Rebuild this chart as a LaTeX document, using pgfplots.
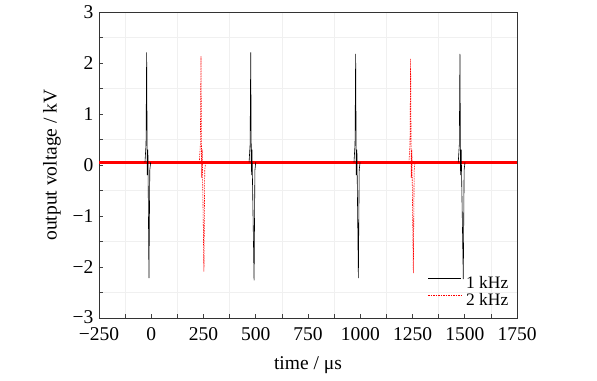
\documentclass[border=0pt]{standalone}
\usepackage{fontspec}
\setmainfont{Liberation Serif}
\usepackage{pgfplots}
\pgfplotsset{compat=1.18}
\begin{document}
\fontsize{19.5}{22}\selectfont
\begin{tikzpicture}
\begin{axis}[
  at={(0,0)}, anchor=south west,
  scale only axis, width=418pt, height=306pt,
  xmin=-250, xmax=1750, ymin=-3, ymax=3,
  xtick={-250,0,250,500,750,1000,1250,1500,1750},
  xticklabels={−250,0,250,500,750,1000,1250,1500,1750},
  ytick={-3,-2,-1,0,1,2,3},
  yticklabels={\raisebox{2.5pt}{−3},−2,−1,0,1,2,3},
  minor x tick num=1, minor y tick num=1,
  tick pos=left, tick align=inside,
  major tick length=4pt, minor tick length=4pt,
  tick style={black!75, line width=0.6pt},
  axis line style={black!80, line width=0.8pt},
  xminorgrids, yminorgrids,
  minor grid style={gray!12, line width=0.5pt},
  ticklabel style={font=\fontsize{19.5}{22}\selectfont, inner sep=1pt},
  xticklabel style={yshift=-8pt},
  yticklabel style={xshift=-4.5pt},
  label style={font=\fontsize{19.5}{22}\selectfont},
  xlabel={time / μs}, ylabel={output voltage / kV},
  xlabel style={yshift=-9pt},
  ylabel style={yshift=4pt},
  unbounded coords=jump,
  legend style={at={(0.988,0.033)}, anchor=south east, draw=none, fill=none,
    font=\fontsize{17.5}{20}\selectfont, row sep=5pt,
    nodes={inner sep=0.5pt, text height=11pt, text depth=0pt},
    /tikz/every odd column/.append style={column sep=4pt}},
  legend cell align=left,
  legend image code/.code={\draw[#1] (0pt,4.5pt) -- (33pt,4.5pt);},
]
% noisy baseline band (red)
\addplot[red, line width=3pt, forget plot] coordinates {(-250,0.05) (1750,0.05)};
% 1 kHz (black) pulses
\addplot[black, line width=0.6pt] coordinates {
(-30,0.05) (-25,0.4) (-22,2.21) (-19,-0.2) (-16,0.3) (-11,-2.22) (-7,-0.1) (-3,0.05)
(nan,nan)
(468,0.05) (473,0.4) (476,2.21) (479,-0.2) (482,0.3) (492,-2.26) (496,-0.1) (500,0.05)
(nan,nan)
(970,0.05) (975,0.4) (978,2.18) (981,-0.2) (984,0.3) (991,-2.22) (995,-0.1) (999,0.05)
(nan,nan)
(1469,0.05) (1474,0.4) (1477,2.18) (1480,-0.2) (1483,0.3) (1493,-2.24) (1497,-0.1) (1501,0.05)
};
\addlegendentry{1 kHz}
% 2 kHz (red dashed) pulses
\addplot[red, line width=0.6pt, dash pattern=on 1.5pt off 1pt] coordinates {
(230,0.05) (235,0.4) (238,2.13) (241,-0.25) (244,0.3) (252,-2.09) (256,-0.1) (260,0.05)
(nan,nan)
(1233,0.05) (1238,0.4) (1241,2.08) (1244,-0.25) (1247,0.3) (1254,-2.12) (1258,-0.1) (1262,0.05)
};
\addlegendentry{2 kHz}
\end{axis}
\useasboundingbox (-99pt,-62pt) rectangle (498pt,318pt);
\end{tikzpicture}
\end{document}
